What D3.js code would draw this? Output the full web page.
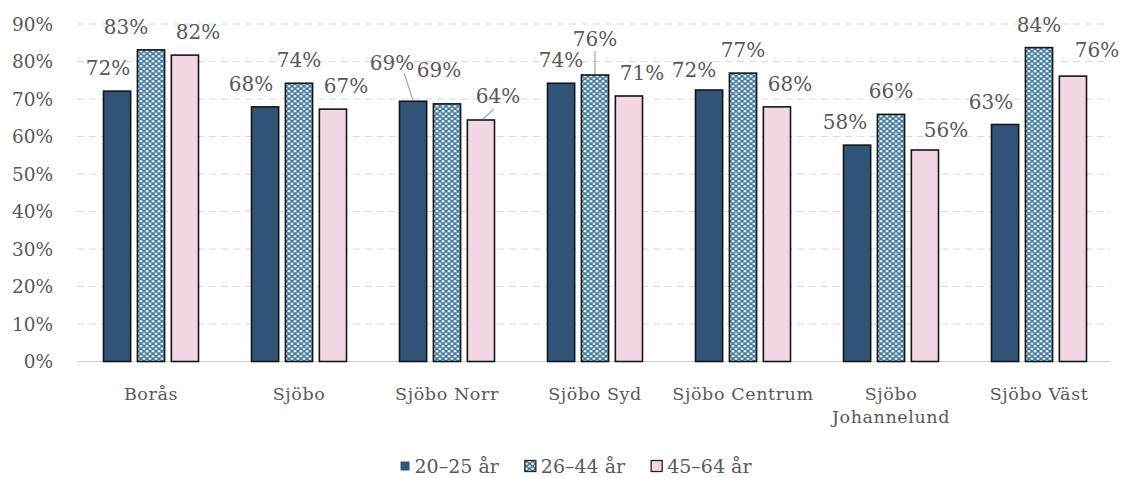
<!DOCTYPE html>
<html><head><meta charset="utf-8">
<script src="https://cdn.jsdelivr.net/npm/d3@7"></script>
<style>
html,body{margin:0;padding:0;background:#fff;}
svg{display:block;font-family:"DejaVu Serif",serif;}
</style></head>
<body><svg id="chart" width="1121" height="478"></svg>
<script>
// ---- data ----
const categories = ["Borås","Sjöbo","Sjöbo Norr","Sjöbo Syd","Sjöbo Centrum","Sjöbo Johannelund","Sjöbo Väst"];
const seriesNames = ["20–25 år","26–44 år","45–64 år"];
const v20_25 = [72.1, 67.9, 69.4, 74.2, 72.4, 57.7, 63.2];
const v26_44 = [83.1, 74.2, 68.7, 76.4, 76.9, 65.9, 83.7];
const v45_64 = [81.7, 67.3, 64.4, 70.8, 67.9, 56.4, 76.1];
const seriesValues = [v20_25, v26_44, v45_64];
const yTicks = [0,10,20,30,40,50,60,70,80,90];

// ---- drawing ----
(function(){
const svg = d3.select("#chart");
const pLeft = 77, pRight = 1113, pTop = 24, pBottom = 361.5;
const y = d3.scaleLinear().domain([0,90]).range([pBottom, pTop]);
const x0 = d3.scaleBand().domain(categories).range([pLeft, pRight]);
const groupW = 95;
const x1 = d3.scaleBand().domain(seriesNames).range([0, groupW]).paddingInner(0.2);
const gOff = (x0.bandwidth() - groupW) / 2;

const defs = svg.append("defs");
const pat = defs.append("pattern").attr("id","dots").attr("patternUnits","userSpaceOnUse")
  .attr("width",6).attr("height",5);
pat.append("rect").attr("width",6).attr("height",5).attr("fill","#44799a");
pat.append("circle").attr("cx",1.5).attr("cy",1.2).attr("r",1.3).attr("fill","#eef8fb");
pat.append("circle").attr("cx",4.5).attr("cy",3.7).attr("r",1.3).attr("fill","#eef8fb");

const fills = ["#2f5478","url(#dots)","#f3d7e5"];
const textColor = "#595959";

// gridlines
svg.append("g").selectAll("line").data(yTicks).join("line")
  .attr("x1", pLeft).attr("x2", 1110)
  .attr("y1", d => y(d)).attr("y2", d => y(d))
  .attr("stroke", d => d === 0 ? "#d0d0d0" : "#dadada")
  .attr("stroke-width", 1.2)
  .attr("stroke-dasharray", d => d === 0 ? null : "7,5");

// y axis labels
const yAxis = d3.axisLeft(y).tickValues(yTicks).tickFormat(d => d + "%").tickSize(0).tickPadding(0);
const ya = svg.append("g").attr("transform", `translate(${53},0)`).call(yAxis);
ya.select(".domain").remove();
ya.selectAll("text").attr("font-family","DejaVu Serif").attr("font-size",18.5).attr("fill",textColor).attr("dy","0.35em");

// bars
const groups = svg.append("g").selectAll("g").data(categories).join("g")
  .attr("transform", c => `translate(${x0(c)+gOff},0)`);
groups.selectAll("rect").data((c,i) => seriesNames.map((s,j) => ({c, s, j, v: seriesValues[j][i]})))
  .join("rect")
  .attr("x", d => x1(d.s)).attr("width", x1.bandwidth())
  .attr("y", d => y(d.v)).attr("height", d => y(0) - y(d.v))
  .attr("fill", d => fills[d.j])
  .attr("stroke", "#151515").attr("stroke-width", 1.6);

// data labels
const defaultDx = [-12, 0, 13];
const nudges = {
  "Borås|1": {dx:-25},
  "Borås|0": {dx:-9},
  "Sjöbo|0": {dx:-14},
  "Sjöbo Norr|0": {dx:-21, dy:-38, leader:[[-9,-28],[0,-1]]},
  "Sjöbo Norr|1": {dx:-8, dy:-34},
  "Sjöbo Norr|2": {dx:17, dy:-24, leader:[[2,-1],[13,-11]]},
  "Sjöbo Syd|0": {dx:0},
  "Sjöbo Syd|1": {dx:0, dy:-36, leader:[[0,-1],[0,-24]]},
  "Sjöbo Centrum|0": {dx:-15, dy:-20},
  "Sjöbo Johannelund|2": {dx:21, dy:-20},
  "Sjöbo Väst|0": {dx:-14},
  "Sjöbo Väst|2": {dx:24, dy:-26}
};
const lab = svg.append("g");
categories.forEach((c,i) => {
  seriesNames.forEach((s,j) => {
    const v = seriesValues[j][i];
    const cx = x0(c) + gOff + x1(s) + x1.bandwidth()/2;
    const ty = y(v);
    const n = nudges[c + "|" + j] || {};
    const dx = n.dx !== undefined ? n.dx : defaultDx[j];
    const dy = n.dy !== undefined ? n.dy : -23;
    if (n.leader) {
      lab.append("line")
        .attr("x1", cx + n.leader[0][0]).attr("y1", ty + n.leader[0][1])
        .attr("x2", cx + n.leader[1][0]).attr("y2", ty + n.leader[1][1])
        .attr("stroke","#a6a6a6").attr("stroke-width",1.2);
    }
    lab.append("text").attr("x", cx + dx).attr("y", ty + dy).attr("dy","0.35em")
      .attr("text-anchor","middle").attr("font-size",20).attr("fill",textColor)
      .text(Math.round(v) + "%");
  });
});

// category labels (wrapped)
const catFont = 17.5, catLS = 0.6;
const xAxis = d3.axisBottom(x0).tickSize(0).tickPadding(0);
const xa = svg.append("g").attr("transform", `translate(0,${pBottom})`).call(xAxis);
xa.select(".domain").remove();
xa.selectAll("text").each(function(c) {
  const t = d3.select(this);
  t.text(null).attr("font-family","DejaVu Serif").attr("font-size",catFont)
   .attr("letter-spacing",catLS).attr("fill",textColor).attr("dy",null);
  const maxW = 146;
  const words = c.split(" ");
  const lines = [];
  let cur = "";
  const tmp = svg.append("text").attr("font-size",catFont).attr("letter-spacing",catLS).attr("font-family","DejaVu Serif");
  words.forEach(w => {
    const test = cur ? cur + " " + w : w;
    tmp.text(test);
    if (tmp.node().getComputedTextLength() > maxW && cur) { lines.push(cur); cur = w; } else cur = test;
  });
  lines.push(cur);
  tmp.remove();
  lines.forEach((l,k) => t.append("tspan").attr("x",0).attr("y", 38 + k*23).text(l));
});

// legend
const legY = 466;
const leg = svg.append("g");
const sw = 11, gapT = 5, gapItem = 26, legFont = 19;
const tmp2 = svg.append("text").attr("font-size",legFont).attr("font-family","DejaVu Serif");
const widths = seriesNames.map(s => { tmp2.text(s); return tmp2.node().getComputedTextLength(); });
tmp2.remove();
const total = d3.sum(widths) + seriesNames.length*(sw+gapT) + gapItem*(seriesNames.length-1);
let lx = 575 - total/2;
seriesNames.forEach((s,j) => {
  const sz = j === 0 ? 9 : sw;
  leg.append("rect").attr("x", lx + (sw - sz)).attr("y", legY - sz/2).attr("width", sz).attr("height", sz)
    .attr("fill", fills[j]).attr("stroke", j === 0 ? "none" : "#222").attr("stroke-width", 1.3);
  leg.append("text").attr("x", lx + sw + gapT).attr("y", legY).attr("dy","0.35em")
    .attr("font-size",legFont).attr("fill",textColor).text(s);
  lx += sw + gapT + widths[j] + gapItem;
});
})();
</script>
</body></html>
